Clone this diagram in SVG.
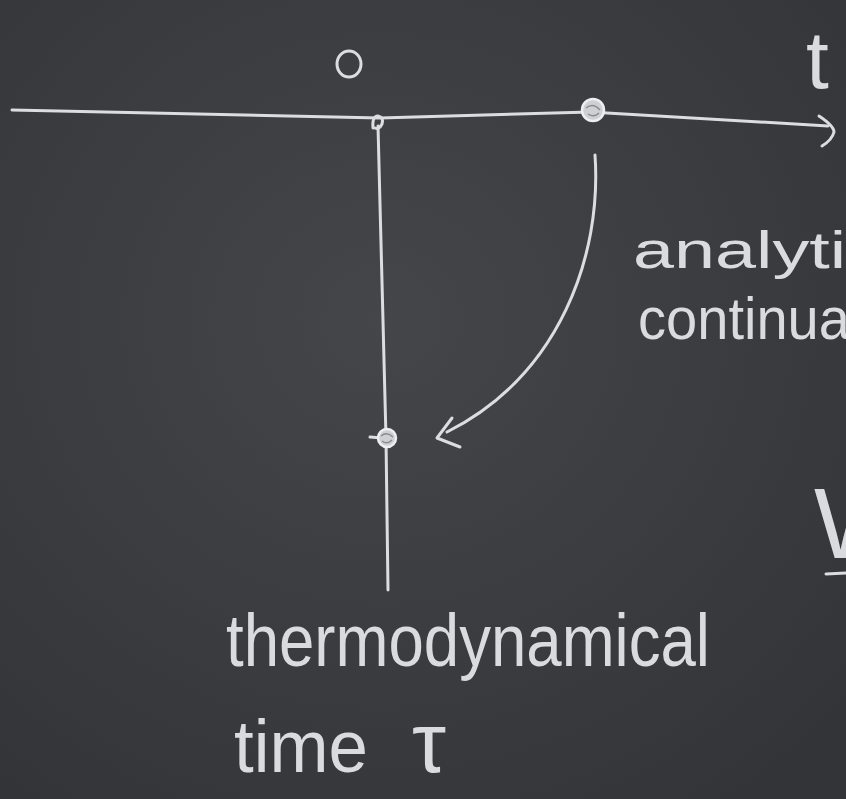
<svg xmlns="http://www.w3.org/2000/svg" width="846" height="799" viewBox="0 0 846 799">
  <defs>
    <radialGradient id="board" cx="45%" cy="40%" r="75%">
      <stop offset="0" stop-color="#45464a"/>
      <stop offset="1" stop-color="#333437"/>
    </radialGradient>
    <style>
      .chalk { fill: none; stroke: #dcdde0; stroke-width: 3; stroke-linecap: round; stroke-linejoin: round; }
      .dot { fill: #cfd0d3; stroke: #eeeeef; stroke-width: 2.5; }
      .txt { fill: #dadbde; font-family: "Liberation Sans", "DejaVu Sans", sans-serif; font-weight: normal; }
    </style>
  </defs>
  <rect width="846" height="799" fill="url(#board)"/>

  <g id="connectors">
    <!-- real time axis -->
    <path class="chalk" d="M12,110 L380,118 L590,112 L828,126"/>
    <path class="chalk" d="M819,116 Q834,126 834,132 Q832,140 822,146"/>
    <!-- imaginary (thermodynamical) axis -->
    <path class="chalk" d="M378,126 L386,438 L388,590"/>
    <!-- analytic continuation arrow -->
    <path class="chalk" d="M595,155 C602,255 560,375 447,432"/>
    <path class="chalk" d="M452,418 L437,438 L460,447"/>
  </g>

  <g id="origin">
    <ellipse cx="349" cy="64" rx="12" ry="13" class="chalk" stroke-width="2.5"/>
    <path class="chalk" stroke-width="2.5" d="M373,128 Q372,116 378,116 Q384,117 382,124 Q379,130 375,128"/>
  </g>

  <g id="point-real">
    <circle cx="593" cy="110" r="11" class="dot"/>
    <path d="M586,108 Q593,102 600,110 M588,114 Q594,118 599,113" stroke="#8a8b8f" stroke-width="1.5" fill="none"/>
  </g>

  <g id="point-imag">
    <path class="chalk" stroke-width="2" d="M370,437 L382,438"/>
    <circle cx="387" cy="438" r="9" class="dot"/>
    <path d="M381,436 Q387,431 393,437 M382,441 Q387,445 392,440" stroke="#8a8b8f" stroke-width="1.5" fill="none"/>
  </g>

  <g id="label-t">
    <text class="txt" x="806" y="88" font-size="82">t</text>
  </g>

  <g id="label-analytic">
    <text class="txt" x="633" y="268" font-size="52" textLength="250" lengthAdjust="spacingAndGlyphs">analytic</text>
    <text class="txt" x="638" y="339" font-size="60" textLength="212" lengthAdjust="spacingAndGlyphs">continua</text>
  </g>

  <g id="label-W">
    <text class="txt" x="814" y="558" font-size="100">W</text>
    <path class="chalk" d="M826,574 L846,573"/>
  </g>

  <g id="label-thermo">
    <text class="txt" x="226" y="666" font-size="74" textLength="484" lengthAdjust="spacingAndGlyphs">thermodynamical</text>
    <text class="txt" x="234" y="772" font-size="74" textLength="134" lengthAdjust="spacingAndGlyphs">time</text>
    <text class="txt" x="412" y="772" font-size="86">τ</text>
  </g>
</svg>
